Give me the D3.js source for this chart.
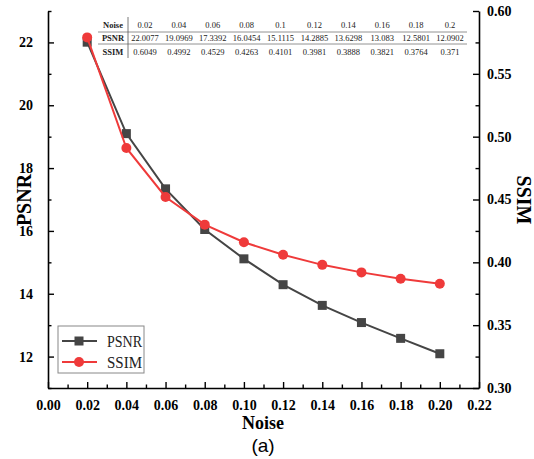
<!DOCTYPE html>
<html>
<head>
<meta charset="utf-8">
<script src="https://cdn.jsdelivr.net/npm/d3@7"></script>
<style>
  html, body { margin: 0; padding: 0; background: #fff; }
  svg { display: block; }
  .tick text { font-family: "Liberation Serif", "Times New Roman", serif; font-weight: bold; font-size: 14px; fill: #000; }
</style>
</head>
<body>
<svg id="chart" width="534" height="459"></svg>
<script>
// Noise levels and measured quality
const noise = [0.02, 0.04, 0.06, 0.08, 0.10, 0.12, 0.14, 0.16, 0.18, 0.20];
const psnr = [22.0077, 19.0969, 17.3392, 16.0454, 15.1115, 14.2885, 13.6298, 13.083, 12.5801, 12.0902];
const ssimCurve = [0.579, 0.491, 0.452, 0.430, 0.416, 0.406, 0.398, 0.392, 0.387, 0.383];
const ssimTable = [0.6049, 0.4992, 0.4529, 0.4263, 0.4101, 0.3981, 0.3888, 0.3821, 0.3764, 0.371];
const tableRows = ["Noise", "PSNR", "SSIM"];

// Axis ticks
const xTicks = [0, 0.02, 0.04, 0.06, 0.08, 0.10, 0.12, 0.14, 0.16, 0.18, 0.20, 0.22];
const xMinor = [0.01, 0.03, 0.05, 0.07, 0.09, 0.11, 0.13, 0.15, 0.17, 0.19, 0.21];
const yLeftTicks = [12, 14, 16, 18, 20, 22];
const yLeftMinor = [11, 13, 15, 17, 19, 21, 23];
const yRightTicks = [0.30, 0.35, 0.40, 0.45, 0.50, 0.55, 0.60];
const yRightMinor = [0.325, 0.375, 0.425, 0.475, 0.525, 0.575];

const svg = d3.select("#chart");
const serif = '"Liberation Serif", "Times New Roman", serif';
const colPSNR = "#454545", colSSIM = "#ef3a3a";

const plotL = 48, plotR = 479, plotT = 11, plotB = 388;
const x = d3.scaleLinear().domain([0, 0.22]).range([plotL, plotR]);
const yL = d3.scaleLinear().domain([11, 23]).range([plotB, plotT]);
const yR = d3.scaleLinear().domain([0.30, 0.60]).range([plotB, plotT]);

function styleAxis(g) {
  g.select(".domain").attr("stroke", "#000").attr("stroke-width", 1.6);
  g.selectAll(".tick line").attr("stroke", "#000").attr("stroke-width", 1.4);
}

// Minor ticks (unlabelled, pointing inward)
svg.append("g").attr("transform", `translate(0,${plotB})`)
  .call(d3.axisBottom(x).tickValues(xMinor).tickSize(-3.5).tickFormat(""))
  .call(styleAxis).call(g => g.select(".domain").remove());
svg.append("g").attr("transform", `translate(${plotL},0)`)
  .call(d3.axisLeft(yL).tickValues(yLeftMinor).tickSize(-3.5).tickFormat(""))
  .call(styleAxis).call(g => g.select(".domain").remove());
svg.append("g").attr("transform", `translate(${plotR},0)`)
  .call(d3.axisRight(yR).tickValues(yRightMinor).tickSize(-3.5).tickFormat(""))
  .call(styleAxis).call(g => g.select(".domain").remove());

// Major axes
svg.append("g").attr("transform", `translate(0,${plotB})`)
  .call(d3.axisBottom(x).tickValues(xTicks).tickSizeInner(-6).tickSizeOuter(0).tickPadding(12).tickFormat(d3.format(".2f")))
  .call(styleAxis);
svg.append("g").attr("transform", `translate(${plotL},0)`)
  .call(d3.axisLeft(yL).tickValues(yLeftTicks).tickSizeInner(-6).tickSizeOuter(0).tickPadding(15).tickFormat(d3.format("d")))
  .call(styleAxis);
svg.append("g").attr("transform", `translate(${plotR},0)`)
  .call(d3.axisRight(yR).tickValues(yRightTicks).tickSizeInner(-6).tickSizeOuter(0).tickPadding(8).tickFormat(d3.format(".2f")))
  .call(styleAxis);

// Axis titles
svg.append("text").attr("transform", `translate(31,200) rotate(-90)`)
  .attr("text-anchor", "middle").attr("font-family", serif).attr("font-weight", "bold")
  .attr("font-size", 20).text("PSNR");
svg.append("text").attr("transform", `translate(517,200) rotate(90)`)
  .attr("text-anchor", "middle").attr("font-family", serif).attr("font-weight", "bold")
  .attr("font-size", 20).text("SSIM");
svg.append("text").attr("x", 263).attr("y", 429).attr("text-anchor", "middle")
  .attr("font-family", serif).attr("font-weight", "bold").attr("font-size", 18).text("Noise");
svg.append("text").attr("x", 263).attr("y", 452).attr("text-anchor", "middle")
  .attr("font-family", '"Liberation Sans", Arial, sans-serif').attr("font-size", 19).text("(a)");

// Series
const linePSNR = d3.line().x((d, i) => x(noise[i])).y(d => yL(d));
const lineSSIM = d3.line().x((d, i) => x(noise[i])).y(d => yR(d));

svg.append("path").datum(psnr).attr("d", linePSNR)
  .attr("fill", "none").attr("stroke", colPSNR).attr("stroke-width", 2);
svg.append("g").selectAll("rect").data(psnr).join("rect")
  .attr("x", (d, i) => x(noise[i]) - 4.5).attr("y", d => yL(d) - 4.5)
  .attr("width", 9).attr("height", 9).attr("fill", colPSNR);

svg.append("path").datum(ssimCurve).attr("d", lineSSIM)
  .attr("fill", "none").attr("stroke", colSSIM).attr("stroke-width", 2);
svg.append("g").selectAll("circle").data(ssimCurve).join("circle")
  .attr("cx", (d, i) => x(noise[i])).attr("cy", d => yR(d))
  .attr("r", 5).attr("fill", colSSIM);

// Inset value table
const tbl = svg.append("g").attr("font-family", serif).attr("font-size", 8.5).attr("fill", "#222");
const colX = d3.scalePoint().domain(d3.range(noise.length)).range([145, 450]);
const rowY = [25, 38, 52];
const headX = 113;
tbl.append("line").attr("x1", 98).attr("x2", 467).attr("y1", 32).attr("y2", 32).attr("stroke", "#777").attr("stroke-width", 0.8);
tbl.append("line").attr("x1", 98).attr("x2", 467).attr("y1", 44).attr("y2", 44).attr("stroke", "#777").attr("stroke-width", 0.8);
tbl.append("line").attr("x1", 128).attr("x2", 128).attr("y1", 17).attr("y2", 58).attr("stroke", "#555").attr("stroke-width", 0.8);
tbl.selectAll("text.head").data(tableRows).join("text").attr("class", "head")
  .attr("x", headX).attr("y", (d, i) => rowY[i]).attr("dy", "0.35em")
  .attr("text-anchor", "middle").attr("font-weight", "bold").text(d => d);
const rowsData = [noise.map(String), psnr.map(String), ssimTable.map(String)];
rowsData.forEach((row, r) => {
  tbl.append("g").selectAll("text").data(row).join("text")
    .attr("x", (d, i) => colX(i)).attr("y", rowY[r]).attr("dy", "0.35em")
    .attr("text-anchor", "middle").text(d => d);
});

// Legend
const lg = svg.append("g");
lg.append("rect").attr("x", 58).attr("y", 326).attr("width", 86).attr("height", 47)
  .attr("fill", "#fff").attr("stroke", "#888").attr("stroke-width", 1);
const legendItems = [
  { name: "PSNR", color: colPSNR, shape: "square", y: 341 },
  { name: "SSIM", color: colSSIM, shape: "circle", y: 362 }
];
legendItems.forEach(it => {
  lg.append("line").attr("x1", 62).attr("x2", 97).attr("y1", it.y).attr("y2", it.y)
    .attr("stroke", it.color).attr("stroke-width", 2);
  if (it.shape === "square") {
    lg.append("rect").attr("x", 79 - 4.5).attr("y", it.y - 4.5).attr("width", 9).attr("height", 9).attr("fill", it.color);
  } else {
    lg.append("circle").attr("cx", 79).attr("cy", it.y).attr("r", 5).attr("fill", it.color);
  }
  lg.append("text").attr("x", 107).attr("y", it.y).attr("dy", "0.36em")
    .attr("font-family", serif).attr("font-size", 17)
    .attr("textLength", 35).attr("lengthAdjust", "spacingAndGlyphs")
    .attr("fill", "#222").text(it.name);
});
</script>
</body>
</html>
